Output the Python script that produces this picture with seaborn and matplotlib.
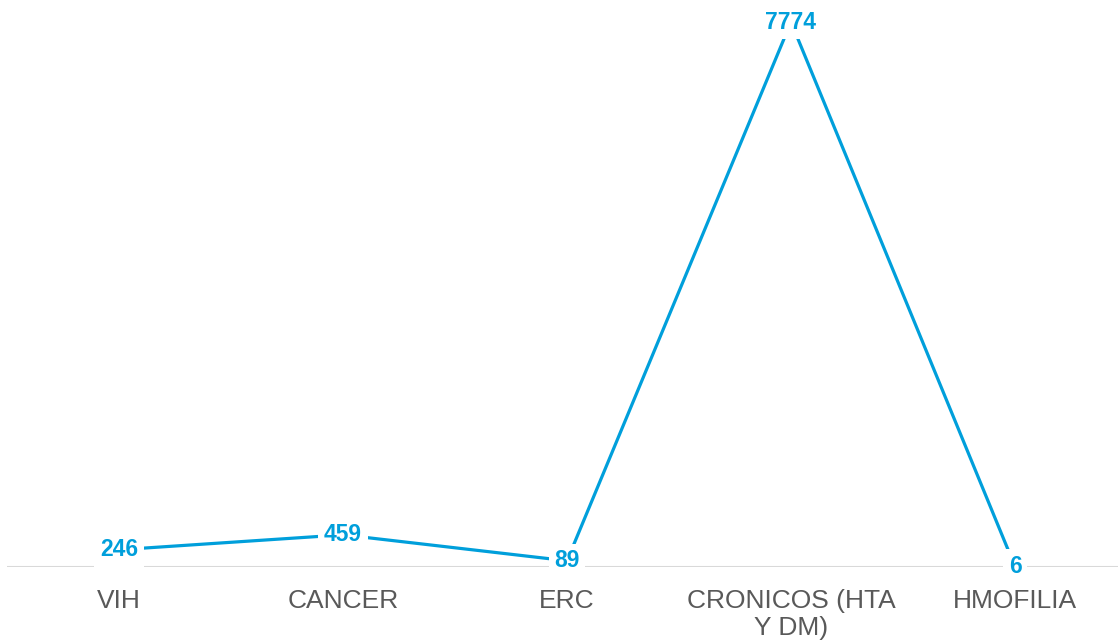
import matplotlib
matplotlib.use("Agg")
import matplotlib.pyplot as plt
import seaborn as sns
import pandas as pd

categories = ["VIH", "CANCER", "ERC", "CRONICOS (HTA\nY DM)", "HMOFILIA"]
values = [246, 459, 89, 7774, 6]

sns.set_theme(style="white")
plt.rcParams['font.family'] = ['Liberation Sans', 'DejaVu Sans']

BLUE = "#009FDB"
GRAY = "#595959"

df = pd.DataFrame({"cat": categories, "val": values, "pos": range(len(categories))})

fig = plt.figure(figsize=(11.18, 6.41), dpi=100)
ax = fig.add_axes([7 / 1118, 74 / 641, 1120 / 1118, 567 / 641])

ax.axhline(0, color="#D9D9D9", lw=1.5, zorder=1)
sns.lineplot(data=df, x="pos", y="val", sort=False, color=BLUE, lw=2.3, ax=ax, zorder=2)

for i, v in zip(df["pos"], df["val"]):
    ax.text(i, v, f"{v}", ha="center", va="center", color=BLUE, fontsize=16.5,
            fontweight="bold", zorder=3,
            bbox=dict(boxstyle="square,pad=0.25", fc="white", ec="none"))

ax.set_xlim(-0.5, len(categories) - 0.5)
ax.set_ylim(0, 8088)
ax.set_xticks(list(df["pos"]))
ax.set_xticklabels(categories, color=GRAY, fontsize=19, linespacing=1.2)
ax.tick_params(axis="x", length=0, pad=15.5)
ax.set_yticks([])
ax.set_xlabel("")
ax.set_ylabel("")
for s in ax.spines.values():
    s.set_visible(False)
ax.set_facecolor("white")
ax.patch.set_alpha(0)

fig.savefig("out.png", dpi=100, facecolor="white")
